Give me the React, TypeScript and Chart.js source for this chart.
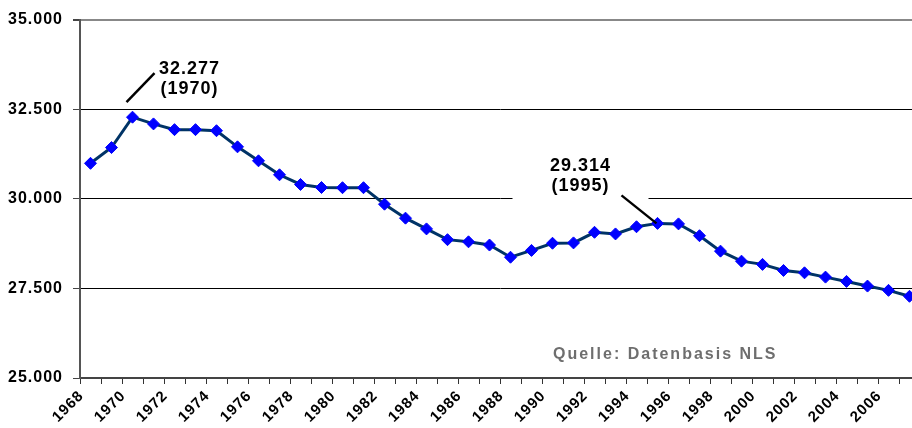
import React, { useEffect, useRef } from 'react';
import { Chart, registerables } from 'chart.js';

Chart.register(...registerables);

const YEARS: string[] = [
  '1968', '1969', '1970', '1971', '1972', '1973', '1974', '1975', '1976', '1977',
  '1978', '1979', '1980', '1981', '1982', '1983', '1984', '1985', '1986', '1987',
  '1988', '1989', '1990', '1991', '1992', '1993', '1994', '1995', '1996', '1997',
  '1998', '1999', '2000', '2001', '2002', '2003', '2004', '2005', '2006', '2007',
];

const VALUES: number[] = [
  30990, 31430, 32277, 32090, 31930, 31930, 31900, 31450, 31060, 30670,
  30400, 30315, 30310, 30310, 29850, 29460, 29160, 28860, 28800, 28710,
  28370, 28560, 28760, 28770, 29065, 29020, 29220, 29314, 29300, 28970,
  28540, 28260, 28170, 28000, 27935, 27815, 27695, 27565, 27445, 27280,
];

const Y_MIN = 25000;
const Y_MAX = 35000;
const Y_STEP = 2500;

const ANNOTATED_YEARS: string[] = ['1970', '1995'];
const SOURCE_TEXT = 'Quelle: Datenbasis NLS';

const FONT = '"Liberation Sans", Arial, Helvetica, sans-serif';

function fmtDE(v: number): string {
  const s = Math.round(v).toString();
  if (s.length <= 3) return s;
  return s.slice(0, -3) + '.' + s.slice(-3);
}

const annotationPlugin = {
  id: 'annotations',
  beforeDraw(chart: any) {
    chart.ctx.letterSpacing = '1px';
  },
  beforeDatasetsDraw(chart: any) {
    const ctx = chart.ctx;
    const meta = chart.getDatasetMeta(0);
    const i2 = YEARS.indexOf(ANNOTATED_YEARS[1]);
    const p2 = meta.data[i2];
    if (!p2) return;
    ctx.save();
    ctx.fillStyle = '#ffffff';
    ctx.fillRect(p2.x - 145, p2.y - 73, 136, 55);
    ctx.restore();
  },
  afterDatasetsDraw(chart: any) {
    const ctx = chart.ctx;
    const meta = chart.getDatasetMeta(0);
    ctx.save();
    ctx.letterSpacing = '1px';
    ctx.font = `bold 18px ${FONT}`;
    ctx.fillStyle = '#000000';
    ctx.strokeStyle = '#000000';
    ctx.lineWidth = 2.5;
    ctx.textAlign = 'center';
    ctx.textBaseline = 'alphabetic';

    const i1 = YEARS.indexOf(ANNOTATED_YEARS[0]);
    const p1 = meta.data[i1];
    if (p1) {
      ctx.beginPath();
      ctx.moveTo(p1.x - 6, p1.y - 15);
      ctx.lineTo(p1.x + 22, p1.y - 44);
      ctx.stroke();
      ctx.fillText(fmtDE(VALUES[i1]), p1.x + 57, p1.y - 43);
      ctx.fillText('(' + YEARS[i1] + ')', p1.x + 57, p1.y - 23);
    }

    const i2 = YEARS.indexOf(ANNOTATED_YEARS[1]);
    const p2 = meta.data[i2];
    if (p2) {
      ctx.beginPath();
      ctx.moveTo(p2.x - 36, p2.y - 28);
      ctx.lineTo(p2.x - 1, p2.y);
      ctx.stroke();
      ctx.fillText(fmtDE(VALUES[i2]), p2.x - 77, p2.y - 52);
      ctx.fillText('(' + YEARS[i2] + ')', p2.x - 77, p2.y - 32);
    }
    ctx.restore();
  },
  afterDraw(chart: any) {
    const ctx = chart.ctx;
    ctx.save();
    ctx.letterSpacing = '2px';
    ctx.font = `bold 16px ${FONT}`;
    ctx.fillStyle = '#6e6e6e';
    ctx.textAlign = 'left';
    ctx.textBaseline = 'alphabetic';
    ctx.fillText(SOURCE_TEXT, 553, 359);
    ctx.restore();
    ctx.letterSpacing = '0px';
  },
};

export default function App() {
  const canvasRef = useRef<HTMLCanvasElement | null>(null);

  useEffect(() => {
    const canvas = canvasRef.current;
    if (!canvas) return;
    const chart = new Chart(canvas, {
      type: 'line',
      data: {
        labels: YEARS,
        datasets: [
          {
            data: VALUES,
            borderColor: '#003366',
            borderWidth: 3,
            tension: 0,
            pointStyle: 'rectRot',
            pointRadius: 6,
            pointBackgroundColor: '#0000ff',
            pointBorderColor: '#0000ff',
            pointBorderWidth: 1,
            fill: false,
            clip: false as any,
          },
        ],
      },
      options: {
        responsive: false,
        maintainAspectRatio: false,
        animation: false,
        layout: { padding: { top: 18, right: 0, left: 0, bottom: 0 } },
        plugins: {
          legend: { display: false },
          tooltip: { enabled: false },
        },
        scales: {
          x: {
            type: 'category',
            offset: true,
            grid: {
              offset: true,
              drawOnChartArea: false,
              drawTicks: true,
              tickLength: 6,
              tickColor: '#333333',
              tickWidth: 1,
            },
            border: { color: '#444444', width: 2 },
            ticks: {
              autoSkip: false,
              maxRotation: 45,
              minRotation: 45,
              labelOffset: -9,
              padding: 3,
              color: '#000000',
              font: { family: FONT, size: 15, weight: 'bold' },
              callback: (_v: any, i: number) => (i % 2 === 0 ? YEARS[i] : ''),
            },
            afterFit: (s: any) => {
              s.height = 50;
              s.paddingRight = 0;
              s.paddingLeft = 0;
            },
          },
          y: {
            min: Y_MIN,
            max: Y_MAX,
            ticks: {
              stepSize: Y_STEP,
              padding: 10,
              color: '#000000',
              font: { family: FONT, size: 16, weight: 'bold' },
              callback: (v: any) => fmtDE(Number(v)),
            },
            grid: {
              color: (c: any) => (c.tick && c.tick.value === Y_MAX ? '#888888' : '#000000'),
              lineWidth: (c: any) => (c.tick && c.tick.value === Y_MAX ? 2 : 1),
              tickLength: 7,
              tickColor: '#444444',
            },
            border: { color: '#555555', width: 2 },
            afterFit: (s: any) => {
              s.width = 80;
            },
          },
        },
      },
      plugins: [annotationPlugin],
    } as any);
    return () => {
      chart.destroy();
    };
  }, []);

  return (
    <div
      style={{
        position: 'fixed',
        left: 0,
        top: 0,
        width: 912,
        height: 428,
        overflow: 'hidden',
        background: '#ffffff',
      }}
    >
      <div style={{ position: 'relative', width: 927, height: 428 }}>
        <canvas
          ref={canvasRef}
          width={927}
          height={428}
          style={{ display: 'block', width: 927, height: 428 }}
        />
      </div>
    </div>
  );
}
